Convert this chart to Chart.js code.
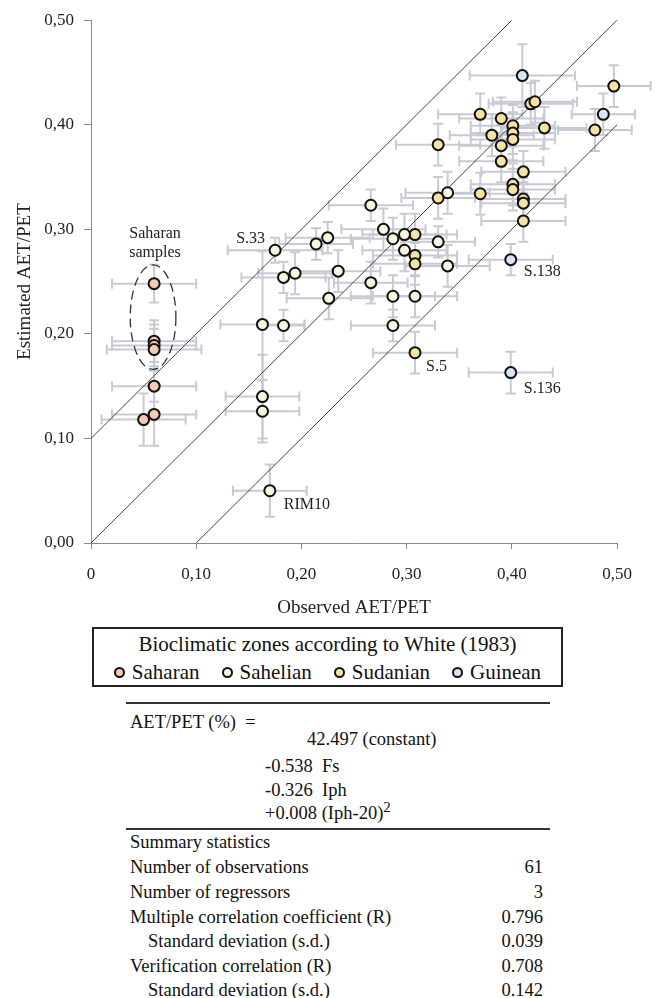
<!DOCTYPE html>
<html>
<head>
<meta charset="utf-8">
<script src="https://cdn.jsdelivr.net/npm/chart.js@4.4.1/dist/chart.umd.min.js"></script>
<style>
  body { margin: 0; background: #fff; font-family: "Liberation Serif", "Times New Roman", serif; color: #111; }
  #wrap { position: relative; width: 658px; height: 998px; }
  #chart { position: absolute; left: 0; top: 0; }
  #legend { position: absolute; left: 92px; top: 627px; width: 467px; height: 56px; border: 2px solid #222; font-size: 21px; }
  #legend .title { position: absolute; left: 0; right: 0; top: 3px; line-height: 24px; text-align: center; }
  #legend .items { position: absolute; left: 0; right: 0; top: 31px; line-height: 24px; display: flex; justify-content: center; gap: 22px; }
  #legend .item { display: flex; align-items: center; }
  #legend .dot { width: 7px; height: 7px; border: 2px solid #111; border-radius: 50%; margin-right: 7px; }
  .t { position: absolute; font-size: 18.5px; line-height: 20px; white-space: nowrap; }
  .r { text-align: right; }
  .rule { position: absolute; left: 126px; width: 424px; background: #333; }
</style>
</head>
<body>
<div id="wrap">
  <canvas id="chart" width="658" height="625"></canvas>
  <div id="legend"></div>

  <div class="rule" style="top:702px;height:2px"></div>
  <div class="t" style="left:130px;top:712px">AET/PET (%)&nbsp;&nbsp;=</div>
  <div class="t" style="left:307px;top:729px">42.497 (constant)</div>
  <div class="t" style="left:265px;top:756px">-0.538&nbsp;&nbsp;Fs</div>
  <div class="t" style="left:265px;top:780px">-0.326&nbsp;&nbsp;Iph</div>
  <div class="t" style="left:265px;top:803px">+0.008 (Iph-20)<sup style="font-size:15px;line-height:0">2</sup></div>
  <div class="rule" style="top:828px;height:1.5px"></div>
  <div id="stats"></div>
</div>

<script>
// observed (x) / estimated (y) AET/PET, per bioclimatic zone
var saharanObs = [0.06, 0.06, 0.06, 0.06, 0.06, 0.06, 0.05];
var saharanEst = [0.248, 0.193, 0.189, 0.185, 0.150, 0.123, 0.118];
var saharanObsErr = [0.040, 0.040, 0.040, 0.045, 0.040, 0.040, 0.040];
var saharanEstErr = [0.018, 0.020, 0.020, 0.020, 0.015, 0.030, 0.025];

var sahelianObs = [0.175, 0.214, 0.225, 0.183, 0.194, 0.235, 0.226, 0.163, 0.183, 0.163, 0.163, 0.266,
                   0.278, 0.287, 0.298, 0.330, 0.298, 0.339, 0.266, 0.287, 0.308, 0.287, 0.339, 0.170];
var sahelianEst = [0.280, 0.286, 0.292, 0.254, 0.258, 0.260, 0.234, 0.209, 0.208, 0.140, 0.126, 0.323,
                   0.300, 0.291, 0.295, 0.288, 0.280, 0.265, 0.249, 0.236, 0.236, 0.208, 0.335, 0.050];
var sahelianObsErr = [0.045, 0.035, 0.040, 0.040, 0.035, 0.040, 0.040, 0.040, 0.020, 0.035, 0.035, 0.040,
                      0.040, 0.040, 0.040, 0.035, 0.040, 0.040, 0.035, 0.040, 0.040, 0.040, 0.040, 0.035];
var sahelianEstErr = [0.012, 0.015, 0.015, 0.015, 0.020, 0.020, 0.020, 0.070, 0.015, 0.040, 0.030, 0.015,
                      0.020, 0.020, 0.020, 0.015, 0.020, 0.020, 0.020, 0.020, 0.020, 0.015, 0.020, 0.025];

var sudanianObs = [0.308, 0.308, 0.308, 0.308, 0.330, 0.330, 0.370, 0.370, 0.381, 0.390, 0.390, 0.390, 0.401,
                   0.401, 0.401, 0.401, 0.401, 0.411, 0.411, 0.411, 0.411, 0.418, 0.422, 0.431, 0.479, 0.497];
var sudanianEst = [0.295, 0.275, 0.267, 0.182, 0.381, 0.330, 0.410, 0.334, 0.390, 0.406, 0.380, 0.365, 0.399,
                   0.392, 0.386, 0.343, 0.338, 0.355, 0.329, 0.325, 0.308, 0.420, 0.422, 0.397, 0.395, 0.437];
var sudanianObsErr = [0.040, 0.040, 0.040, 0.040, 0.040, 0.035, 0.040, 0.040, 0.040, 0.040, 0.040, 0.040, 0.040,
                      0.040, 0.040, 0.040, 0.040, 0.040, 0.040, 0.040, 0.040, 0.040, 0.040, 0.040, 0.035, 0.035];
var sudanianEstErr = [0.020, 0.020, 0.020, 0.020, 0.020, 0.020, 0.020, 0.020, 0.020, 0.020, 0.020, 0.020, 0.020,
                      0.020, 0.020, 0.020, 0.020, 0.020, 0.020, 0.020, 0.020, 0.020, 0.020, 0.020, 0.020, 0.020];

var guineanObs = [0.410, 0.399, 0.399, 0.487];
var guineanEst = [0.447, 0.271, 0.163, 0.410];
var guineanObsErr = [0.050, 0.040, 0.040, 0.030];
var guineanEstErr = [0.030, 0.015, 0.020, 0.020];

var zoneNames = ['Saharan', 'Sahelian', 'Sudanian', 'Guinean'];

// 1:1 line and +/- 0.10 lines
var refLineObs = [[0, 0.4], [0, 0.5], [0.1, 0.5]];
var refLineEst = [[0.1, 0.5], [0, 0.5], [0, 0.4]];

var xTicks = [0, 0.1, 0.2, 0.3, 0.4, 0.5];
var yTicks = [0, 0.1, 0.2, 0.3, 0.4, 0.5];

var pointLabels = ['S.33', 'S.138', 'S.5', 'S.136', 'RIM10'];
var pointLabelObs = [0.175, 0.399, 0.308, 0.399, 0.170];
var pointLabelEst = [0.280, 0.271, 0.182, 0.163, 0.050];

var saharanGroup = { x: 0.059, y: 0.216, rx: 0.0217, ry: 0.050 };

var statNames = ['Summary statistics', 'Number of observations', 'Number of regressors',
                 'Multiple correlation coefficient (R)', 'Standard deviation (s.d.)',
                 'Verification correlation (R)', 'Standard deviation (s.d.)'];
var statValues = ['', '61', '3', '0.796', '0.039', '0.708', '0.142'];

// ---- styles ----
var zoneColors = ['#f6c9b6', '#f7f6e0', '#f5e3a6', '#d6e6f6'];
var labelStyle = [[-10, -11, 'right'], [13, 12, 'left'], [11, 14, 'left'], [13, 16, 'left'], [14, 14, 'left']];
var SERIF = '"Liberation Serif", "Times New Roman", serif';

function pts(xs, ys) {
    return xs.map(function (v, i) { return { x: v, y: ys[i] }; });
}

var zoneData = [
    [saharanObs, saharanEst, saharanObsErr, saharanEstErr],
    [sahelianObs, sahelianEst, sahelianObsErr, sahelianEstErr],
    [sudanianObs, sudanianEst, sudanianObsErr, sudanianEstErr],
    [guineanObs, guineanEst, guineanObsErr, guineanEstErr]
];

var datasets = zoneData.map(function (z, i) {
    return {
        label: zoneNames[i],
        data: pts(z[0], z[1]),
        xErr: z[2],
        yErr: z[3],
        backgroundColor: zoneColors[i],
        borderColor: '#111',
        borderWidth: 2,
        pointRadius: 5.5,
        clip: false
    };
});
refLineObs.forEach(function (xs, i) {
    datasets.push({
        label: 'ref' + i,
        data: pts(xs, refLineEst[i]),
        showLine: true,
        borderColor: '#444',
        borderWidth: 1,
        pointRadius: 0
    });
});

// grey error bars, drawn under the markers
var errorBars = {
    id: 'errorBars',
    beforeDatasetsDraw: function (chart) {
        var ctx = chart.ctx, xs = chart.scales.x, ys = chart.scales.y;
        ctx.save();
        ctx.strokeStyle = '#c9c9d3';
        ctx.lineWidth = 2;
        chart.data.datasets.forEach(function (ds) {
            if (!ds.xErr) return;
            ds.data.forEach(function (p, i) {
                var px = xs.getPixelForValue(p.x), py = ys.getPixelForValue(p.y);
                var x0 = xs.getPixelForValue(p.x - ds.xErr[i]), x1 = xs.getPixelForValue(p.x + ds.xErr[i]);
                var y0 = ys.getPixelForValue(p.y - ds.yErr[i]), y1 = ys.getPixelForValue(p.y + ds.yErr[i]);
                ctx.beginPath();
                ctx.moveTo(x0, py); ctx.lineTo(x1, py);
                ctx.moveTo(x0, py - 5); ctx.lineTo(x0, py + 5);
                ctx.moveTo(x1, py - 5); ctx.lineTo(x1, py + 5);
                ctx.moveTo(px, y0); ctx.lineTo(px, y1);
                ctx.moveTo(px - 5, y0); ctx.lineTo(px + 5, y0);
                ctx.moveTo(px - 5, y1); ctx.lineTo(px + 5, y1);
                ctx.stroke();
            });
        });
        ctx.restore();
    }
};

var annotations = {
    id: 'annotations',
    afterDatasetsDraw: function (chart) {
        var ctx = chart.ctx, xs = chart.scales.x, ys = chart.scales.y;
        ctx.save();
        ctx.fillStyle = '#222';
        ctx.font = '16px ' + SERIF;
        ctx.textBaseline = 'middle';
        pointLabels.forEach(function (t, i) {
            var st = labelStyle[i];
            ctx.textAlign = st[2];
            ctx.fillText(t, xs.getPixelForValue(pointLabelObs[i]) + st[0], ys.getPixelForValue(pointLabelEst[i]) + st[1]);
        });
        // dashed ellipse round the Saharan samples
        var g = saharanGroup;
        var cx = xs.getPixelForValue(g.x), cy = ys.getPixelForValue(g.y);
        var rx = xs.getPixelForValue(g.x + g.rx) - cx, ry = cy - ys.getPixelForValue(g.y + g.ry);
        ctx.strokeStyle = '#333';
        ctx.lineWidth = 1.3;
        ctx.setLineDash([9, 5]);
        ctx.beginPath();
        ctx.ellipse(cx, cy, rx, ry, 0, 0, Math.PI * 2);
        ctx.stroke();
        ctx.setLineDash([]);
        ctx.textAlign = 'center';
        ctx.fillText('Saharan', cx + 2, cy - ry - 31);
        ctx.fillText('samples', cx + 2, cy - ry - 12);
        ctx.restore();
    }
};

function comma(v) {
    return v === 0 ? '0' : v.toFixed(2).replace('.', ',');
}

var chart = new Chart(document.getElementById('chart'), {
    type: 'scatter',
    data: { datasets: datasets },
    options: {
        responsive: false,
        animation: false,
        layout: { padding: { top: 18, right: 41, left: 0, bottom: 0 } },
        plugins: { legend: { display: false }, tooltip: { enabled: false } },
        scales: {
            x: {
                min: 0, max: 0.5,
                afterBuildTicks: function (s) { s.ticks = xTicks.map(function (v) { return { value: v }; }); },
                afterFit: function (s) { s.height = 82; },
                grid: { drawOnChartArea: false, color: '#888', tickLength: 6 },
                border: { color: '#888' },
                ticks: { padding: 15, color: '#222', font: { family: SERIF, size: 17 }, callback: comma },
                title: { display: true, text: 'Observed AET/PET', color: '#222', font: { family: SERIF, size: 19 }, padding: { top: 0, bottom: 6 } }
            },
            y: {
                min: 0, max: 0.5,
                afterBuildTicks: function (s) { s.ticks = yTicks.map(function (v) { return { value: v }; }); },
                afterFit: function (s) { s.width = 91; },
                grid: { drawOnChartArea: false, color: '#888', tickLength: 7 },
                border: { color: '#888' },
                ticks: { padding: 10, color: '#222', font: { family: SERIF, size: 17 },
                         callback: function (v) { return v.toFixed(2).replace('.', ','); } },
                title: { display: true, text: 'Estimated AET/PET', color: '#222', font: { family: SERIF, size: 19 }, padding: { top: 14, bottom: 0 } }
            }
        }
    },
    plugins: [errorBars, annotations]
});

// legend built from the zone datasets
var legend = document.getElementById('legend');
var html = '<div class="title">Bioclimatic zones according to White (1983)</div><div class="items">';
chart.data.datasets.slice(0, zoneNames.length).forEach(function (ds) {
    html += '<div class="item"><span class="dot" style="background:' + ds.backgroundColor + '"></span>' + ds.label + '</div>';
});
legend.innerHTML = html + '</div>';

// summary statistics table
var stats = document.getElementById('stats');
var rowTops = [832, 857, 882, 907, 931, 956, 980];
var indented = [false, false, false, false, true, false, true];
statNames.forEach(function (name, i) {
    stats.innerHTML += '<div class="t" style="left:' + (indented[i] ? 148 : 130) + 'px;top:' + rowTops[i] + 'px">' + name + '</div>' +
        '<div class="t r" style="right:' + (658 - 543) + 'px;top:' + rowTops[i] + 'px">' + statValues[i] + '</div>';
});
</script>
</body>
</html>
